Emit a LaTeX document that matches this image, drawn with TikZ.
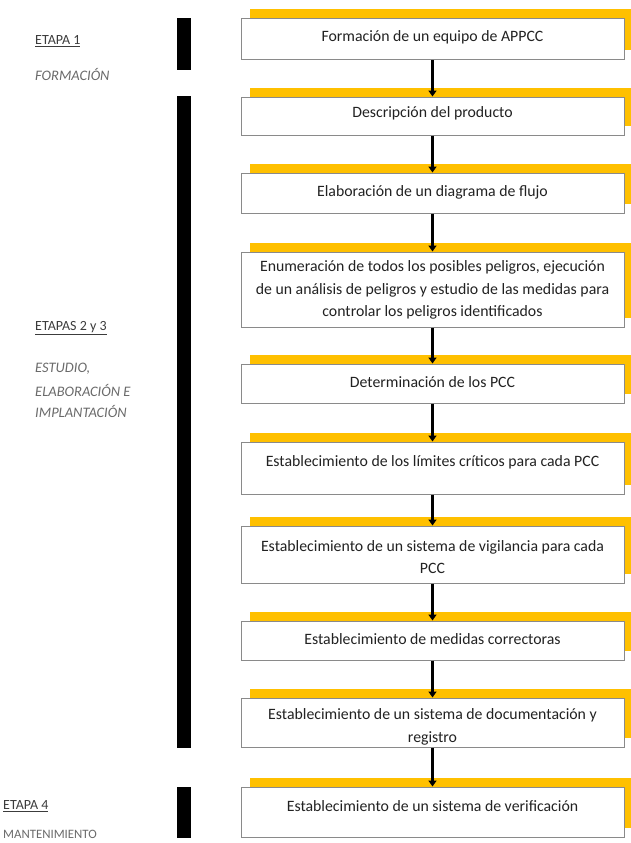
\documentclass[tikz,border=0pt]{standalone}
\usepackage{fontspec}
\setmainfont{Carlito}
\usetikzlibrary{arrows.meta,backgrounds,calc}
\definecolor{gold}{HTML}{FFC000}
\definecolor{boxline}{HTML}{8A8A8A}
\definecolor{txtdark}{HTML}{222222}
\definecolor{lbl}{HTML}{3C3C3C}
\definecolor{lblit}{HTML}{6A6A6A}
\tikzset{
  box/.style={draw=boxline, line width=1pt, fill=white, rectangle, inner sep=0pt, minimum width=383pt},
  btxt/.style={font=\fontsize{15.8}{22.5}\selectfont, text=txtdark, align=center, inner sep=0pt},
  etapa/.style={font=\fontsize{14}{16}\selectfont, text=lbl, anchor=west, inner sep=0pt},
  fase/.style={font=\fontsize{14.5}{16}\selectfont\itshape, text=lblit, anchor=west, inner sep=0pt},
  flow/.style={-{Triangle[width=8pt,length=6pt]}, line width=2.6pt, black},
  shadowbar/.style={fill=gold},
  stagebar/.style={fill=black}
}
\begin{document}
\begin{tikzpicture}[x=1pt,y=-1pt]
\useasboundingbox (0,0) rectangle (631,843);

% boxes
\node[box, minimum height=41pt] (b1) at (432.5,39.5) {};
\node[box, minimum height=38pt] (b2) at (432.5,116) {};
\node[box, minimum height=40pt] (b3) at (432.5,193) {};
\node[box, minimum height=75pt] (b4) at (432.5,289.5) {};
\node[box, minimum height=39pt] (b5) at (432.5,383.5) {};
\node[box, minimum height=52pt] (b6) at (432.5,468) {};
\node[box, minimum height=57pt] (b7) at (432.5,554.5) {};
\node[box, minimum height=39pt] (b8) at (432.5,640.5) {};
\node[box, minimum height=49pt] (b9) at (432.5,722.5) {};
\node[box, minimum height=50pt] (b10) at (432.5,812) {};

% texts
\node[btxt] (t1) at (432.5,37) {Formación de un equipo de APPCC};
\node[btxt] (t2) at (432.5,113) {Descripción del producto};
\node[btxt] (t3) at (432.5,192) {Elaboración de un diagrama de flujo};
\node[btxt] (t4) at (432.5,290) {Enumeración de todos los posibles peligros, ejecución\\de un análisis de peligros y estudio de las medidas para\\controlar los peligros identificados};
\node[btxt] (t5) at (432.5,382) {Determinación de los PCC};
\node[btxt] (t6) at (432.5,462) {Establecimiento de los límites críticos para cada PCC};
\node[btxt] (t7) at (432.5,557) {Establecimiento de un sistema de vigilancia para cada\\PCC};
\node[btxt] (t8) at (432.5,639) {Establecimiento de medidas correctoras};
\node[btxt] (t9) at (432.5,727) {Establecimiento de un sistema de documentación y\\registro};
\node[btxt] (t10) at (432.5,806) {Establecimiento de un sistema de verificación};

% gold offset shadows
\begin{scope}[on background layer]
\foreach \b in {b1,b2,b3,b4,b5,b6,b7,b8,b9,b10}{
  \fill[shadowbar] ($(\b.north west)+(9pt,9pt)$) rectangle ($(\b.south east)+(8pt,10pt)$);
}
\end{scope}

% arrows
\draw[flow] (b1.south) -- (b2.north);
\draw[flow] (b2.south) -- (b3.north);
\draw[flow] (b3.south) -- (b4.north);
\draw[flow] (b4.south) -- (b5.north);
\draw[flow] (b5.south) -- (b6.north);
\draw[flow] (b6.south) -- (b7.north);
\draw[flow] (b7.south) -- (b8.north);
\draw[flow] (b8.south) -- (b9.north);
\draw[flow] (b9.south) -- (b10.north);

% stage bars
\fill[stagebar] (177,18) rectangle (191,70);
\fill[stagebar] (177,96) rectangle (191,748);
\fill[stagebar] (177,787) rectangle (191,838);

% stage labels
\node[etapa] (e1) at (35,41) {\underline{ETAPA 1}};
\node[fase] (f1) at (35,74) {FORMACIÓN};
\node[etapa] (e2) at (35,328) {\underline{ETAPAS 2 y 3}};
\node[fase] (f2a) at (35,369) {ESTUDIO,};
\node[fase] (f2b) at (35,390) {ELABORACIÓN E};
\node[fase] (f2c) at (35,411) {IMPLANTACIÓN};
\node[etapa] (e4) at (3,806) {\underline{ETAPA 4}};
\node[etapa, text=lblit, font=\fontsize{12.8}{15}\selectfont] (f4) at (3,834) {MANTENIMIENTO};
\end{tikzpicture}
\end{document}
